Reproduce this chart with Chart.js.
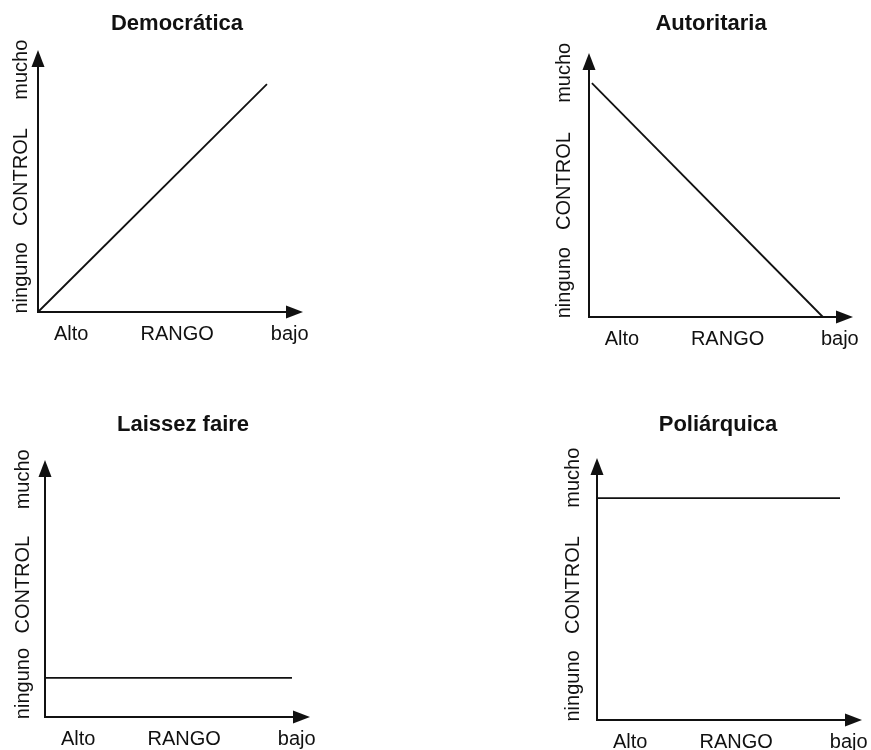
<!DOCTYPE html>
<html>
<head>
<meta charset="utf-8">
<script src="https://cdn.jsdelivr.net/npm/chart.js@4.4.0/dist/chart.umd.min.js"></script>
<style>
  body { margin: 0; background: #fff; }
  #wrap { position: relative; width: 871px; height: 750px; }
  canvas { position: absolute; }
</style>
</head>
<body>
<div id="wrap">
  <canvas id="c0" width="435" height="375" style="left:0;top:0"></canvas>
  <canvas id="c1" width="435" height="375" style="left:436px;top:0"></canvas>
  <canvas id="c2" width="435" height="375" style="left:0;top:375px"></canvas>
  <canvas id="c3" width="435" height="375" style="left:436px;top:375px"></canvas>
</div>
<script>
// data (axis runs 0..10 from origin to arrow tip)
const titles = ['Democrática', 'Autoritaria', 'Laissez faire', 'Poliárquica'];
const xTickLabels = ['Alto', 'RANGO', 'bajo'];
const xTickValues = [1.25, 5.25, 9.5];
const yTickLabels = ['ninguno', 'CONTROL', 'mucho'];
const yTickValues = [1.3, 5.15, 9.25];

const democraticaX = [0, 8.64];
const democraticaY = [0, 8.7];
const autoritariaX = [0.11, 8.86];
const autoritariaY = [8.86, 0];
const laissezX = [0, 9.32];
const laissezY = [1.52, 1.52];
const poliarquicaX = [0, 9.17];
const poliarquicaY = [8.47, 8.47];

const seriesX = [democraticaX, autoritariaX, laissezX, poliarquicaX];
const seriesY = [democraticaY, autoritariaY, laissezY, poliarquicaY];

// layout of each panel inside its canvas
const panels = [
  { padding: { left: 38, top: 50, right: 132, bottom: 63 }, titleX: 177, titleY: 24, labelOffset: 17 },
  { padding: { left: 153, top: 53, right: 18, bottom: 58 }, titleX: 275, titleY: 24, labelOffset: 25 },
  { padding: { left: 45, top: 85, right: 125, bottom: 33 }, titleX: 183, titleY: 50, labelOffset: 22 },
  { padding: { left: 161, top: 83, right: 9, bottom: 30 }, titleX: 282, titleY: 50, labelOffset: 24 }
];

const INK = '#111';
const FONT = '"Liberation Sans", Arial, Helvetica, sans-serif';

const axesPlugin = {
  id: 'arrowAxes',
  afterDraw(chart, args, opts) {
    const { ctx, scales: { x, y } } = chart;
    const x0 = x.getPixelForValue(0);
    const y0 = y.getPixelForValue(0);
    const xEnd = x.getPixelForValue(10);
    const yEnd = y.getPixelForValue(10);

    ctx.save();
    ctx.strokeStyle = INK;
    ctx.fillStyle = INK;
    ctx.lineWidth = 2;
    ctx.beginPath();
    ctx.moveTo(x0, yEnd + 10);
    ctx.lineTo(x0, y0);
    ctx.lineTo(xEnd - 10, y0);
    ctx.stroke();

    // arrow heads
    ctx.beginPath();
    ctx.moveTo(x0, yEnd);
    ctx.lineTo(x0 - 6.5, yEnd + 17);
    ctx.lineTo(x0 + 6.5, yEnd + 17);
    ctx.closePath();
    ctx.fill();
    ctx.beginPath();
    ctx.moveTo(xEnd, y0);
    ctx.lineTo(xEnd - 17, y0 - 6.5);
    ctx.lineTo(xEnd - 17, y0 + 6.5);
    ctx.closePath();
    ctx.fill();

    // tick labels
    ctx.font = '20px ' + FONT;
    ctx.textAlign = 'center';
    ctx.textBaseline = 'middle';
    xTickLabels.forEach((label, i) => {
      ctx.fillText(label, x.getPixelForValue(xTickValues[i]), y0 + 22);
    });
    yTickLabels.forEach((label, i) => {
      ctx.save();
      ctx.translate(x0 - opts.labelOffset, y.getPixelForValue(yTickValues[i]));
      ctx.rotate(-Math.PI / 2);
      ctx.fillText(label, 0, 0);
      ctx.restore();
    });

    // title
    ctx.font = 'bold 22px ' + FONT;
    ctx.fillText(opts.title, opts.titleX, opts.titleY);
    ctx.restore();
  }
};

function makePanel(i) {
  const p = panels[i];
  const points = seriesX[i].map((v, k) => ({ x: v, y: seriesY[i][k] }));
  new Chart(document.getElementById('c' + i), {
    type: 'line',
    data: {
      datasets: [{
        data: points,
        borderColor: INK,
        borderWidth: 1.8,
        pointRadius: 0,
        fill: false,
        clip: false
      }]
    },
    options: {
      responsive: false,
      animation: false,
      layout: { padding: p.padding },
      scales: {
        x: { type: 'linear', min: 0, max: 10, display: false },
        y: { type: 'linear', min: 0, max: 10, display: false }
      },
      plugins: {
        legend: { display: false },
        tooltip: { enabled: false },
        arrowAxes: { title: titles[i], titleX: p.titleX, titleY: p.titleY, labelOffset: p.labelOffset }
      }
    },
    plugins: [axesPlugin]
  });
}

document.addEventListener('DOMContentLoaded', () => {
  [0, 1, 2, 3].forEach(makePanel);
});
</script>
</body>
</html>
